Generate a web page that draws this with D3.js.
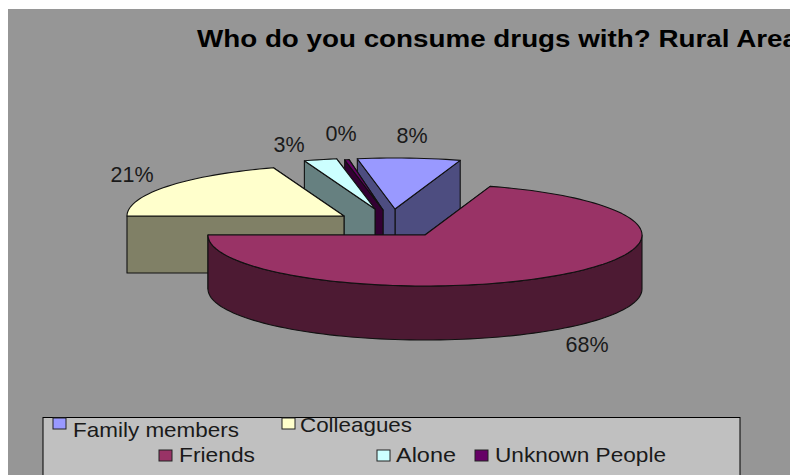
<!DOCTYPE html>
<html><head><meta charset="utf-8">
<script src="https://cdn.jsdelivr.net/npm/d3@7"></script>
<style>html,body{margin:0;padding:0;background:#fff}svg{display:block}text{font-family:"Liberation Sans",Arial,sans-serif}</style>
</head><body><div id="chart"></div>
<script>
const categories = ["Family members","Friends","Colleagues","Alone","Unknown People"];
const values = [8,68,21,3,0.4];
const valueLabels = ["8%","68%","21%","3%","0%"];
const titleText = "Who do you consume drugs with? Rural Area";
const topColors = ["#9999ff","#993366","#ffffcc","#ccffff","#660066"];
const sideColors = ["#4d4d80","#4d1a33","#808066","#668080","#330033"];

const W = 790, H = 475;
const svg = d3.select("#chart").append("svg").attr("width",W).attr("height",H);
svg.append("rect").attr("width",W).attr("height",H).attr("fill","#fff");
svg.append("rect").attr("x",8).attr("y",9).attr("width",W-8).attr("height",H-9).attr("fill","#969696");

// Pie layout, then the oblique view of the reference's 3-D chart
const pie = d3.pie().sort(null).value(d=>d);
const deg = r=>r*180/Math.PI;
const rad = d=>d*Math.PI/180;
const arcs = pie(values);
const view = d3.scaleLinear().domain([0,28.7,272.5,347.8,360]).range([-10,17.5,270,341,351]);
const xUnit = d3.scaleLinear().domain([-1,1]).range([-217,217]);
const yUnit = d3.scaleLinear().domain([-1,1]).range([-51,51]);
const depth = [51,54,57,57,51];
const apexes = [[395,209],[425,235],[344,216],[375,209],[383,210]];
const line = d3.line();

function rim(i,a){
  const [ax,ay]=apexes[i];
  return [ax+xUnit(Math.sin(rad(a))), ay+yUnit(-Math.cos(rad(a)))];
}
const drop=(p,i)=>[p[0],p[1]+depth[i]];
const order=[0,4,3,2,1];
const g=svg.append("g").attr("stroke","#111").attr("stroke-width",1.1).attr("stroke-linejoin","round");
order.forEach(i=>{
  const a0=view(deg(arcs[i].startAngle)), a1=view(deg(arcs[i].endAngle));
  const apex=apexes[i];
  const face=p=>g.append("path").attr("d",line([apex,p,drop(p,i),drop(apex,i)])+"Z").attr("fill",sideColors[i]);
  face(rim(i,a1));
  face(rim(i,a0));
  const f0=Math.max(a0,90), f1=Math.min(a1,270);
  if(f1>f0){
    const top=d3.range(f0,f1+0.01,2).map(a=>rim(i,a));
    const wall=top.concat(top.map(p=>drop(p,i)).reverse());
    g.append("path").attr("d",line(wall)+"Z").attr("fill",sideColors[i]);
  }
  const n=Math.max(2,Math.ceil((a1-a0)/2));
  const pts=d3.range(n+1).map(k=>rim(i,a0+(a1-a0)*k/n));
  g.append("path").attr("d",line([apex].concat(pts))+"Z").attr("fill",topColors[i]);
});

// Title (runs off the right edge, as in the reference)
svg.append("text").attr("x",197).attr("y",47).attr("font-size",23).attr("font-weight","bold").attr("fill","#000")
  .attr("textLength",601).attr("lengthAdjust","spacingAndGlyphs").text(titleText);

// Value labels
const labelPos=[[412,143],[587,352],[132,182],[289,152],[341,141]];
svg.selectAll("text.val").data(valueLabels).join("text").attr("class","val")
  .attr("x",(d,i)=>labelPos[i][0]).attr("y",(d,i)=>labelPos[i][1])
  .attr("text-anchor","middle").attr("font-size",21.5).attr("fill","#1a1a1a").text(d=>d);

// Legend
svg.append("rect").attr("x",43).attr("y",417.5).attr("width",697).attr("height",70)
  .attr("fill","#c0c0c0").attr("stroke","#000").attr("stroke-width",1);
const legendPos=[[53,418,73,437],[159,450,179,462],[282,418,300,432],[377,450,396,462],[475,450,495,462]];
const legendWidths=[166,76,112,60,171];
const lg=svg.selectAll("g.lg").data(categories).join("g").attr("class","lg");
lg.append("rect").attr("x",(d,i)=>legendPos[i][0]).attr("y",(d,i)=>legendPos[i][1])
  .attr("width",13).attr("height",11).attr("fill",(d,i)=>topColors[i]).attr("stroke","#222").attr("stroke-width",1);
lg.append("text").attr("x",(d,i)=>legendPos[i][2]).attr("y",(d,i)=>legendPos[i][3])
  .attr("font-size",21).attr("fill","#1a1a1a")
  .attr("textLength",(d,i)=>legendWidths[i]).attr("lengthAdjust","spacingAndGlyphs").text(d=>d);
</script></body></html>
